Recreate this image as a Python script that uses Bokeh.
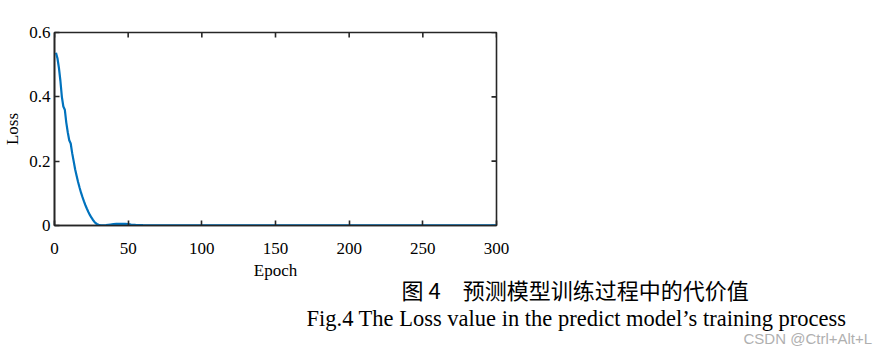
import math
from bokeh.plotting import figure
from bokeh.layouts import column
from bokeh.models import LinearAxis, Label, Range1d, FixedTicker
from bokeh.embed import file_html
from bokeh.resources import INLINE

# Data
epochs = [1, 2, 3, 4, 5, 6, 7, 8, 9, 10, 11, 12, 13, 14, 15, 16, 17, 18, 19, 20,
          21, 22, 23, 24, 25, 26, 27, 28, 29, 30, 31, 32, 33, 35, 38, 40, 42, 45,
          48, 50, 52, 55, 60, 70, 80, 100, 150, 200, 250, 300]
loss = [0.537, 0.52, 0.49, 0.45, 0.40, 0.37, 0.36, 0.32, 0.29, 0.265, 0.255, 0.225,
        0.20, 0.175, 0.155, 0.135, 0.118, 0.102, 0.088, 0.075, 0.063, 0.052, 0.042,
        0.033, 0.025, 0.018, 0.012, 0.007, 0.004, 0.002, 0.001, 0.0005, 0.0003,
        0.001, 0.003, 0.004, 0.005, 0.005, 0.005, 0.004, 0.003, 0.002, 0.001,
        0.0005, 0.0003, 0.0002, 0.0001, 0.0001, 0.0001, 0.0001]
x_ticks = [0, 50, 100, 150, 200, 250, 300]
y_ticks = [0, 0.2, 0.4, 0.6]
y_tick_labels = {0: "0", 0.2: "0.2", 0.4: "0.4", 0.6: "0.6"}
x_label = "Epoch"
y_label = "Loss"
caption_cn = "图 4\u3000预测模型训练过程中的代价值"
caption_en = "Fig.4 The Loss value in the predict model\u2019s training process"
watermark = "CSDN @Ctrl+Alt+L"

SERIF = "Liberation Serif"
AX = "#262626"
X0, X1 = 0, 300
Y0, Y1 = 0, 0.6

p = figure(width=889, height=262, output_backend="svg", toolbar_location=None,
           x_range=Range1d(X0, X1), y_range=Range1d(Y0, Y1),
           min_border_left=54, min_border_right=393, min_border_top=32,
           min_border_bottom=37, x_axis_location=None, y_axis_location=None)
p.frame_width = 442
p.frame_height = 193
p.frame_align = False
p.outline_line_color = AX
p.outline_line_width = 1.6
p.grid.visible = False
p.background_fill_color = "white"
p.border_fill_color = "white"

def style(ax):
    ax.axis_line_color = AX
    ax.axis_line_width = 1.6
    ax.major_tick_line_color = AX
    ax.major_tick_line_width = 1.6
    ax.major_tick_in = 5
    ax.major_tick_out = 0
    ax.minor_tick_line_color = None
    ax.major_label_text_font = SERIF
    ax.major_label_text_font_size = "17px"
    ax.major_label_text_color = "black"
    ax.axis_label_text_font = SERIF
    ax.axis_label_text_font_size = "17px"
    ax.axis_label_text_font_style = "normal"
    ax.axis_label_text_color = "black"

xb = LinearAxis(ticker=FixedTicker(ticks=x_ticks))
style(xb)
xb.major_label_standoff = 17
p.add_layout(xb, "below")

yl = LinearAxis(ticker=FixedTicker(ticks=y_ticks), axis_label=y_label,
                major_label_overrides=y_tick_labels)
style(yl)
yl.major_label_standoff = 4
yl.axis_label_standoff = 4
p.add_layout(yl, "left")

# mirrored inward ticks on the top and right edges (half of each marker is clipped by the frame)
p.scatter(x_ticks, [Y1] * len(x_ticks), marker="dash", size=10, angle=math.pi / 2,
          line_color=AX, line_width=1.6)
p.scatter([X1] * len(y_ticks), y_ticks, marker="dash", size=10,
          line_color=AX, line_width=1.6)

p.line(epochs, loss, line_color="#0072BD", line_width=2.2)

# lower strip: x-axis title and the figure captions
cap = figure(width=889, height=92, output_backend="svg", toolbar_location=None,
             x_range=Range1d(0, 1), y_range=Range1d(0, 1),
             min_border=0, x_axis_location=None, y_axis_location=None)
cap.frame_width = 889
cap.frame_height = 92
cap.frame_align = False
cap.outline_line_color = None
cap.grid.visible = False
cap.background_fill_color = "white"
cap.border_fill_color = "white"

cap.add_layout(Label(x=275, y=84, x_units="screen", y_units="screen", text=x_label,
                     text_font=SERIF, text_font_size="17px", text_align="center",
                     text_baseline="middle", text_color="black"))
cap.add_layout(Label(x=401, y=66, x_units="screen", y_units="screen", text=caption_cn,
                     text_font="Noto Sans CJK SC", text_font_size="22px",
                     text_baseline="middle", text_color="black"))
cap.add_layout(Label(x=306, y=36, x_units="screen", y_units="screen", text=caption_en,
                     text_font=SERIF, text_font_size="22.5px",
                     text_baseline="middle", text_color="black"))
cap.add_layout(Label(x=743, y=16, x_units="screen", y_units="screen", text=watermark,
                     text_font="Liberation Sans", text_font_size="15px",
                     text_baseline="middle", text_color="#b0b0b0"))

layout = column(p, cap, spacing=0)
open("out.html", "w").write(file_html(layout, INLINE))
